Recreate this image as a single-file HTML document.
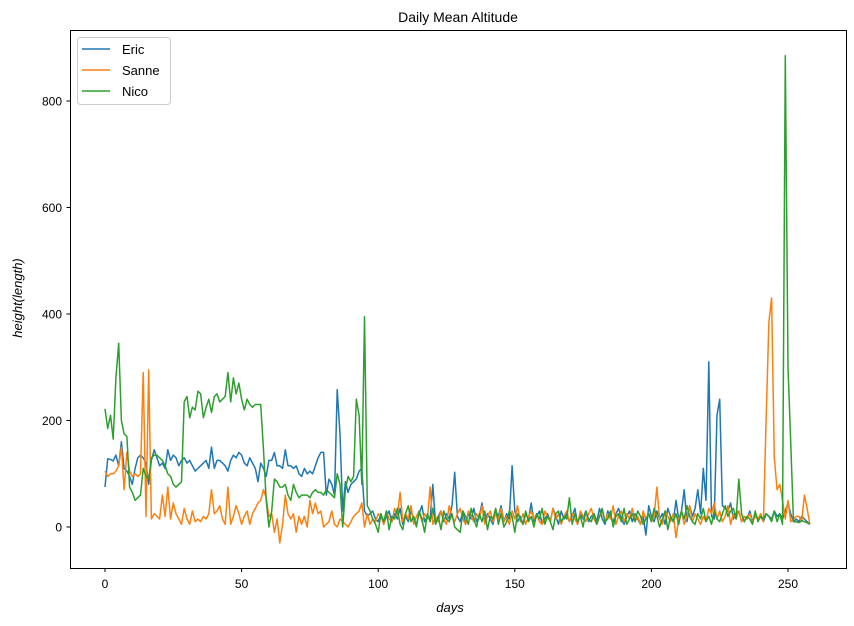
<!DOCTYPE html>
<html><head><meta charset="utf-8"><style>
body{margin:0;background:#fff;}
svg{display:block;font-family:"Liberation Sans","DejaVu Sans",sans-serif;}
</style></head><body>
<svg id="chart" width="854" height="626">
<text x="458" y="22" font-size="14" text-anchor="middle">Daily Mean Altitude</text>
<g id="plot"></g>
<rect x="70.5" y="30.5" width="776" height="538" fill="none" stroke="#000" stroke-width="1"/>
<text x="450" y="612" font-size="13" font-style="italic" text-anchor="middle">days</text>
<text transform="translate(22,298) rotate(-90)" font-size="13" font-style="italic" text-anchor="middle">height(length)</text>
<g>
<rect x="77.5" y="37.5" width="93" height="67" rx="3" fill="#fff" fill-opacity="0.8" stroke="#ccc"/>
<line x1="82" y1="49" x2="110" y2="49" stroke="#1f77b4" stroke-width="1.5"/>
<text x="122" y="54" font-size="13">Eric</text>
<line x1="82" y1="70" x2="110" y2="70" stroke="#ff7f0e" stroke-width="1.5"/>
<text x="122" y="75" font-size="13">Sanne</text>
<line x1="82" y1="91" x2="110" y2="91" stroke="#2ca02c" stroke-width="1.5"/>
<text x="122" y="96" font-size="13">Nico</text>
</g>
</svg>
<script>
const xTicks=[0,50,100,150,200,250];
const yTicks=[0,200,400,600,800];
const eric=[75,128,127,124,135,115,160,110,105,95,80,110,130,135,130,120,80,125,145,130,115,120,110,145,125,135,130,115,125,130,120,125,115,105,110,115,120,125,110,150,110,125,125,120,115,105,125,135,130,140,135,120,115,130,120,110,85,120,110,95,125,125,140,115,115,110,145,115,115,110,115,100,95,110,100,105,100,115,130,140,140,60,90,80,60,258,175,30,85,65,80,85,90,105,110,30,20,25,30,
15,10,25,5,20,30,10,25,15,35,5,20,10,30,15,5,25,40,10,20,
15,80,5,20,30,10,25,15,40,103,20,10,30,5,25,15,35,10,20,45,
10,25,15,5,30,20,40,10,25,15,115,30,10,20,5,25,15,45,10,20,
30,5,15,25,10,35,20,5,30,15,25,10,20,35,5,25,15,30,10,20,
25,10,35,15,5,30,20,10,25,35,15,5,20,30,10,25,15,5,20,-15,
40,20,10,30,15,25,5,35,20,10,50,15,30,70,10,40,20,35,70,25,
110,50,310,20,15,210,240,40,35,30,45,15,25,30,10,20,15,30,10,25,
15,20,10,25,20,15,30,20,25,15,30,45,25,10,15,10,20,15,10,5];
const sanne=[105,95,100,100,105,115,150,70,140,105,95,100,95,100,290,20,295,15,25,20,15,60,20,75,15,45,25,15,5,35,15,5,30,10,15,10,20,15,25,70,25,30,40,15,5,75,5,20,40,25,5,20,30,5,25,35,45,50,70,55,20,25,-10,15,-30,5,60,25,15,25,-10,20,5,20,0,50,25,45,25,30,0,5,10,30,5,0,15,10,5,0,10,20,25,30,45,0,25,
5,15,10,25,20,5,30,15,10,35,20,65,10,25,15,40,5,20,30,10,
25,15,75,5,20,10,30,15,5,40,20,10,25,35,15,5,30,20,10,25,
15,40,5,20,30,10,25,15,35,10,20,5,30,15,40,10,25,5,20,30,
15,25,10,5,30,20,10,35,15,25,5,20,30,10,25,15,5,30,20,10,
25,35,15,5,20,30,10,25,15,40,5,20,30,10,25,15,35,10,20,5,
30,15,25,10,20,75,15,5,30,20,10,25,-20,15,30,5,20,40,10,25,
15,5,20,10,35,25,45,15,30,10,20,40,5,25,15,30,10,20,15,25,
10,20,15,25,10,200,385,430,130,70,80,50,15,50,10,15,20,20,10,60,35,5];
const nico=[222,185,210,165,280,345,200,175,170,75,65,50,55,60,110,95,90,130,135,135,130,125,115,100,95,80,75,80,85,235,245,205,225,220,255,250,205,225,240,215,245,250,235,240,245,290,235,280,250,270,240,220,240,230,225,230,230,230,145,50,0,30,90,85,75,75,80,60,50,80,65,55,60,60,60,55,65,70,65,65,60,70,65,60,55,100,80,0,70,95,85,95,240,210,80,395,40,30,15,
5,-10,25,10,30,-5,20,15,35,5,-5,25,40,10,20,0,30,15,-10,25,
10,35,5,20,-5,30,15,10,25,0,-5,-10,30,20,5,35,15,0,25,10,
30,-5,20,15,35,5,25,0,10,30,20,-10,25,15,5,30,10,20,0,25,
15,35,5,20,10,-5,25,30,10,20,15,55,5,25,10,20,0,30,15,10,
25,5,20,35,10,15,30,0,20,25,10,35,5,15,25,10,30,20,5,15,
25,10,35,20,0,15,30,-5,20,10,25,5,30,15,40,20,10,5,25,15,
35,10,20,5,30,15,10,25,40,20,30,35,15,90,25,10,20,15,5,30,
10,20,15,25,20,10,30,10,25,5,885,300,160,10,10,8,12,10,8,5];
const NS='http://www.w3.org/2000/svg';
function xs(d){return 105+d*2.732;}
function ys(v){return 527-v*0.5325;}
const svg=document.getElementById('chart');
const plot=document.getElementById('plot');
xTicks.forEach(t=>{
  const l=document.createElementNS(NS,'line');
  l.setAttribute('x1',xs(t));l.setAttribute('x2',xs(t));l.setAttribute('y1',568.5);l.setAttribute('y2',572);l.setAttribute('stroke','#000');
  
  
  svg.appendChild(l);
  const tx=document.createElementNS(NS,'text');
  tx.setAttribute('x',xs(t));tx.setAttribute('y',588);tx.setAttribute('font-size','12');tx.setAttribute('text-anchor','middle');
  tx.textContent=t;
  
  
  svg.appendChild(tx);
});
yTicks.forEach(t=>{
  const l=document.createElementNS(NS,'line');
  l.setAttribute('x1',66.5);l.setAttribute('x2',70.5);l.setAttribute('y1',ys(t));l.setAttribute('y2',ys(t));l.setAttribute('stroke','#000');
  
  
  svg.appendChild(l);
  const tx=document.createElementNS(NS,'text');
  tx.setAttribute('x',62);tx.setAttribute('y',ys(t)+4.5);tx.setAttribute('font-size','12');tx.setAttribute('text-anchor','end');
  tx.textContent=t;
  
  
  svg.appendChild(tx);
});
function drawLine(arr,color,name){
  const p=document.createElementNS(NS,'polyline');
  p.setAttribute('points',arr.map((v,i)=>xs(i).toFixed(1)+','+ys(v).toFixed(1)).join(' '));
  p.setAttribute('fill','none');p.setAttribute('stroke',color);p.setAttribute('stroke-width','1.5');p.setAttribute('stroke-linejoin','round');
  
  
  plot.appendChild(p);
}
drawLine(eric,'#1f77b4','series-eric');
drawLine(sanne,'#ff7f0e','series-sanne');
drawLine(nico,'#2ca02c','series-nico');
</script>
</body></html>
